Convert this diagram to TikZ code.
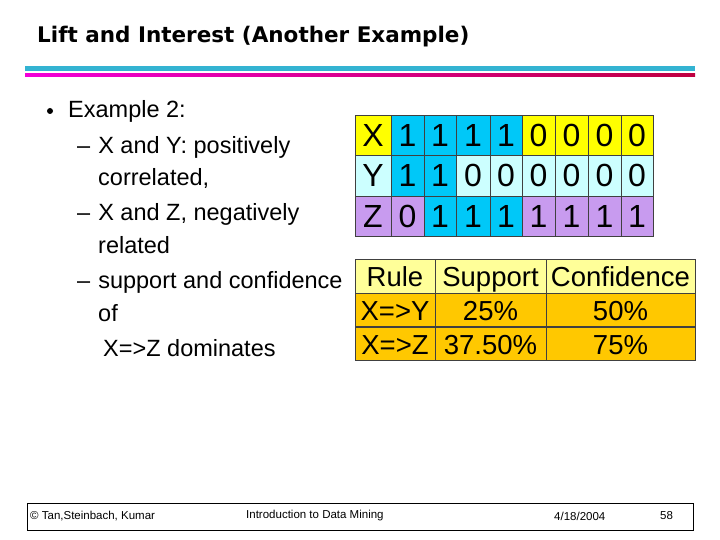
\documentclass[tikz,border=0pt]{standalone}
\usepackage{fontspec}
\setmainfont{Liberation Sans}
\newfontfamily\titlefont{DejaVu Sans}
\begin{document}
\begin{tikzpicture}[x=1pt,y=-1pt,
  body/.style={anchor=west,inner sep=0,font=\fontsize{23.5}{25}\selectfont},
  cell/.style={draw=black!75,line width=0.8pt,inner sep=0,font=\fontsize{32}{34}\selectfont,text height=23pt,text depth=0pt},
  foot/.style={inner sep=0,font=\fontsize{11.5}{12}\selectfont}]
\useasboundingbox (0,0) rectangle (720,540);
\definecolor{cy}{HTML}{00C8F8}\definecolor{lc}{HTML}{CCFFFF}
\definecolor{lv}{HTML}{C89BEF}\definecolor{yl}{HTML}{FFFF00}
\definecolor{ly}{HTML}{FFFF99}\definecolor{og}{HTML}{FFC800}
\node[anchor=west,inner sep=0,font=\titlefont\bfseries\fontsize{21.5}{24}\selectfont] (title) at (37,37) {Lift and Interest (Another Example)};
\fill[cy!80!black!80] (25,66) rectangle (695,71);
\shade[left color=magenta!80!purple,right color=purple] (25,74) rectangle (695,77);
\fill[black] (50,111) circle (3);
\node[body] (t1) at (68,111) {Example 2:};
\node[body] (t2) at (77,147) {–\hspace{8pt}X and Y: positively};
\node[body] (t3) at (98,178) {correlated,};
\node[body] (t4) at (77,214) {–\hspace{8pt}X and Z, negatively};
\node[body] (t5) at (98,245) {related};
\node[body] (t6) at (77,282) {–\hspace{8pt}support and confidence};
\node[body] (t7) at (98,313) {of};
\node[body] (t8) at (103,348) {X=>Z dominates};
% top table
\def\xs{{355,391,424,456,490,522,555,588,621,653}}
\def\ys{{115,155,196,236}}
\foreach \r/\row in {0/{X,1,1,1,1,0,0,0,0},1/{Y,1,1,0,0,0,0,0,0},2/{Z,0,1,1,1,1,1,1,1}}{
  \foreach \v [count=\c from 0] in \row {
    \pgfmathsetmacro{\xa}{\xs[\c]}\pgfmathsetmacro{\xb}{\xs[\c+1]}
    \pgfmathsetmacro{\ya}{\ys[\r]}\pgfmathsetmacro{\yb}{\ys[\r+1]}
    \ifnum\r=0 \ifnum\c>0 \ifnum\c<5 \def\col{cy}\else\def\col{yl}\fi\else\def\col{yl}\fi\fi
    \ifnum\r=1 \ifnum\c>0 \ifnum\c<3 \def\col{cy}\else\def\col{lc}\fi\else\def\col{lc}\fi\fi
    \ifnum\r=2 \ifnum\c>1 \ifnum\c<5 \def\col{cy}\else\def\col{lv}\fi\else\def\col{lv}\fi\fi
    \node[cell,fill=\col,minimum width=\xb-\xa,minimum height=\yb-\ya] (a\r\c) at ({(\xa+\xb)/2},{(\ya+\yb)/2}) {\v};
  }
}
% bottom table
\tikzset{bc/.style={draw=black!75,line width=0.8pt,inner sep=0,font=\fontsize{27.5}{28}\selectfont,minimum height=33.7,text height=20pt,text depth=0pt}}
\node[bc,fill=ly,minimum width=80] (r0) at (395,276.5) {Rule};
\node[bc,fill=ly,minimum width=111] (s0) at (490.5,276.5) {Support};
\node[bc,fill=ly,minimum width=149] (c0) at (620.5,276.5) {Confidence};
\node[bc,fill=og,minimum width=80] (r1) at (395,310) {X=>Y};
\node[bc,fill=og,minimum width=111] (s1) at (490.5,310) {25\%};
\node[bc,fill=og,minimum width=149] (c1) at (620.5,310) {50\%};
\node[bc,fill=og,minimum width=80] (r2) at (395,344) {X=>Z};
\node[bc,fill=og,minimum width=111] (s2) at (490.5,344) {37.50\%};
\node[bc,fill=og,minimum width=149] (c2) at (620.5,344) {75\%};
% footer
\draw[line width=0.6pt] (27,503) rectangle (693,530);
\node[foot,anchor=west] (f1) at (30,516) {© Tan,Steinbach, Kumar};
\node[foot,anchor=west] (f2) at (246,516) {Introduction to Data Mining};
\node[foot,anchor=west] (f3) at (554,516) {4/18/2004};
\node[foot,anchor=west] (f4) at (660,516) {58};
\end{tikzpicture}
\end{document}
